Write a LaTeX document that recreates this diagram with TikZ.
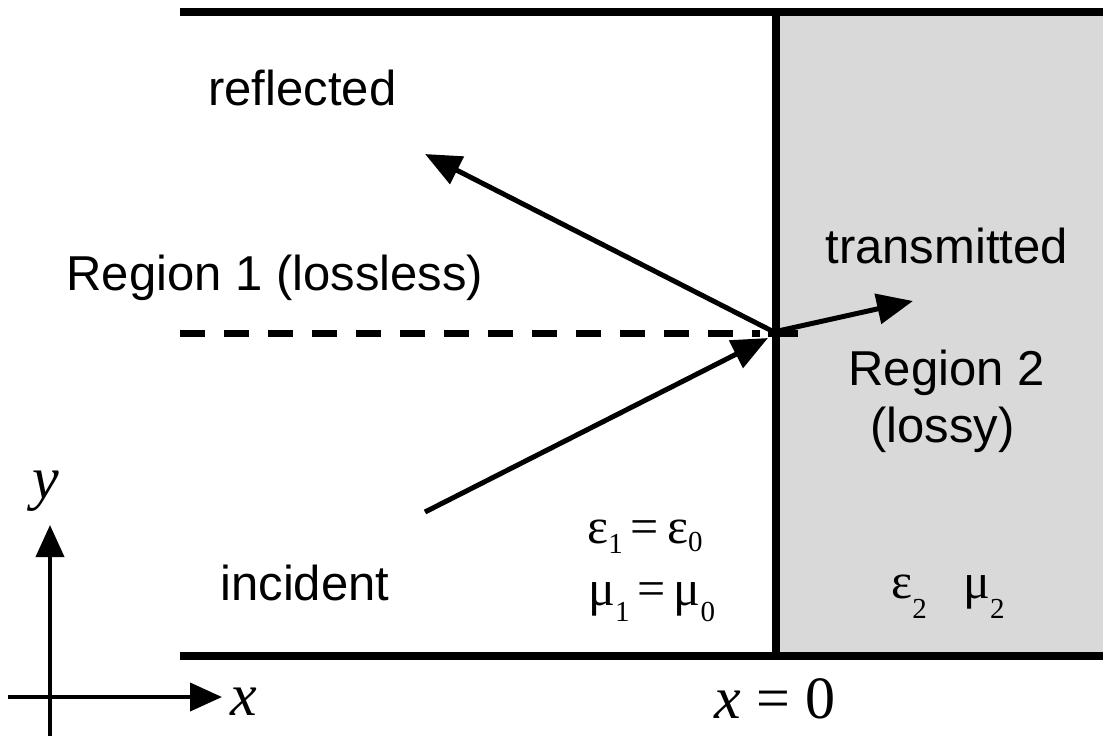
\documentclass[tikz,border=0pt]{standalone}
\usepackage{fontspec}
\setmainfont{Liberation Sans}
\newfontfamily\serifff{Liberation Serif}
\usetikzlibrary{arrows.meta}
\definecolor{regiongray}{RGB}{217,217,217}
\newcommand\lowsub[2]{\raisebox{-#1}{\fontsize{14.5}{14.5}\selectfont #2}}
\begin{document}
\begin{tikzpicture}[x=0.5pt,y=-0.5pt,
  wall/.style={line width=4pt},
  ray/.style={line width=2.5pt,-{Triangle[length=18pt,width=15pt]}},
  axisarrow/.style={line width=2pt,-{Triangle[length=16pt,width=14pt]}},
  lbl/.style={anchor=base west,inner sep=0pt,font=\fontsize{24.5}{29}\selectfont},
  mth/.style={anchor=base,inner sep=0pt,font=\serifff\fontsize{30}{36}\selectfont},
  grk/.style={anchor=base west,inner sep=0pt,font=\serifff\fontsize{25}{30}\selectfont}]
\useasboundingbox (0,0) rectangle (1103,736);
\fill[regiongray] (776,12) rectangle (1103,656);
% coordinates
\coordinate (TL) at (180,12);
\coordinate (TR) at (1103,12);
\coordinate (BL) at (180,656);
\coordinate (BR) at (1103,656);
\coordinate (VT) at (776,8);
\coordinate (VB) at (776,660);
\coordinate (D1) at (180,333);
\coordinate (D2) at (760,333);
\coordinate (D3) at (768,333);
\coordinate (D4) at (798,333);
\coordinate (O) at (776,333);
\coordinate (Oin) at (768,338);
\coordinate (Oout) at (778,331);
\coordinate (I) at (425,512);
\coordinate (R) at (425,154);
\coordinate (T) at (913,301);
\coordinate (AYb) at (50,736);
\coordinate (AYt) at (50,525);
\coordinate (AXl) at (8,697);
\coordinate (AXr) at (222,697);
% lines
\draw[line width=3.5pt, dash pattern=on 12.5pt off 9.5pt] (D1) -- (D2);
\draw[line width=3.5pt] (D3) -- (D4);
\draw[wall] (TL) -- (TR);
\draw[wall] (BL) -- (BR);
\draw[wall] (VT) -- (VB);
% rays
\draw[ray] (I) -- (Oin);
\draw[ray] (O) -- (R);
\draw[ray] (Oout) -- (T);
% axes
\draw[axisarrow] (AYb) -- (AYt);
\draw[axisarrow] (AXl) -- (AXr);
% labels
\node[lbl] (reflected) at (208,105) {reflected};
\node[lbl] (region1) at (66,290) {Region 1 (lossless)};
\node[lbl] (transmitted) at (825,263) {transmitted};
\node[lbl] (region2) at (848,385) {Region 2};
\node[lbl] (lossy) at (870,442) {(lossy)};
\node[lbl] (incident) at (220,600) {incident};
\node[mth] (ylab) at (46,498) {\itshape y};
\node[mth] (xlab) at (244,715) {\itshape x};
\node[mth] (x0) at (775,718) {{\itshape x} = 0};
\node[grk] (eps1) at (587,543) {ε\lowsub{5pt}{1}\hspace{4pt}=\hspace{4pt}ε\lowsub{4pt}{0}};
\node[grk] (mu1) at (588,605) {μ\lowsub{8pt}{1}\hspace{4pt}=\hspace{4pt}μ\lowsub{8pt}{0}};
\node[grk] (eps2) at (891,598) {ε\lowsub{10pt}{2}};
\node[grk] (mu2) at (963,598) {μ\lowsub{10pt}{2}};
\end{tikzpicture}
\end{document}
